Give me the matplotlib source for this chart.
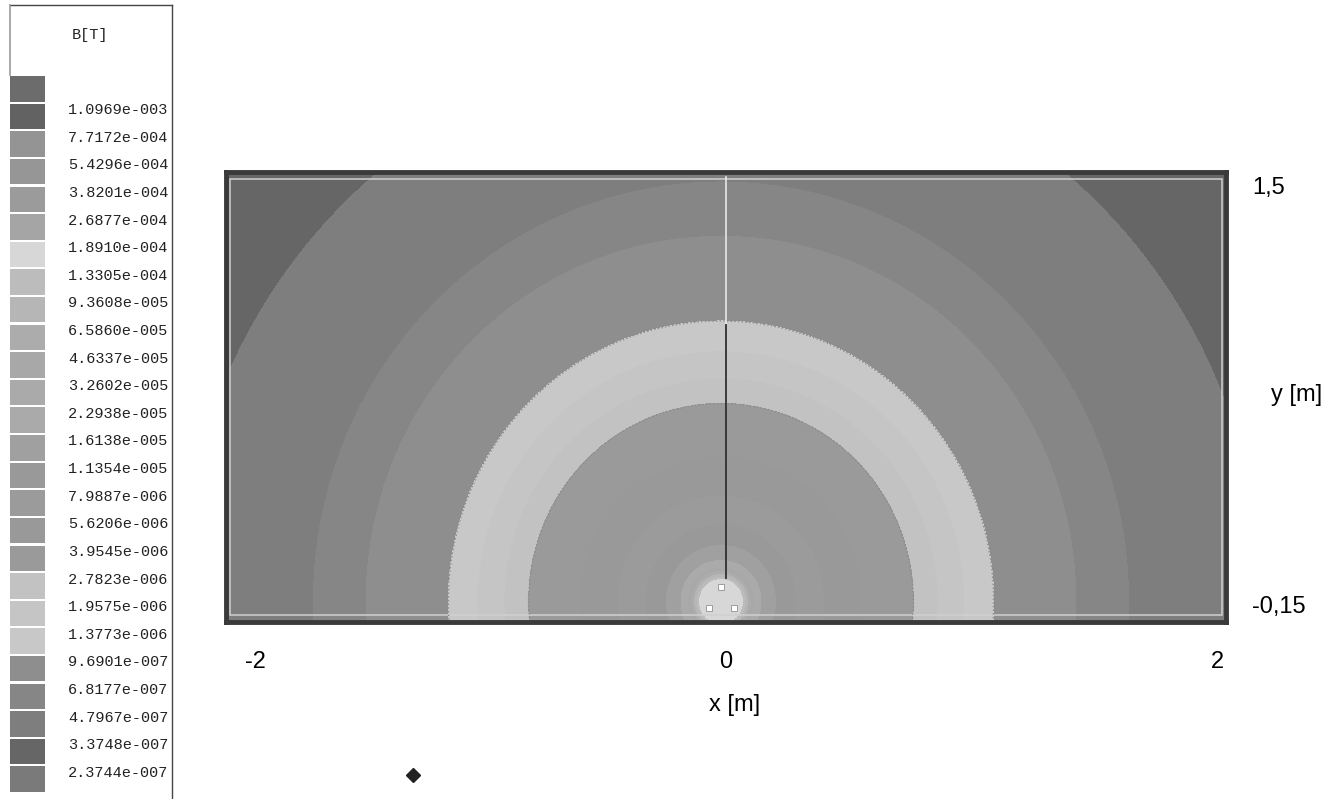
import numpy as np
import matplotlib
matplotlib.use("Agg")
import matplotlib.pyplot as plt
import matplotlib.transforms as mtransforms
from matplotlib.lines import Line2D
from matplotlib.patches import Rectangle

# legend levels B[T], top (highest) to bottom
level_labels = ["1.0969e-003", "7.7172e-004", "5.4296e-004", "3.8201e-004",
                "2.6877e-004", "1.8910e-004", "1.3305e-004", "9.3608e-005",
                "6.5860e-005", "4.6337e-005", "3.2602e-005", "2.2938e-005",
                "1.6138e-005", "1.1354e-005", "7.9887e-006", "5.6206e-006",
                "3.9545e-006", "2.7823e-006", "1.9575e-006", "1.3773e-006",
                "9.6901e-007", "6.8177e-007", "4.7967e-007", "3.3748e-007",
                "2.3744e-007"]
levels_desc = [float(s) for s in level_labels]

# grey of the 26 legend swatches (scan), top -> bottom
swatch_gray = [108, 98, 148, 150, 155, 165, 215, 188, 182, 172, 168, 170, 170,
               160, 153, 155, 153, 154, 194, 197, 200, 142, 134, 126, 102, 122]

# contour boundaries seen in the plot: radius from cable centre [m] and level on it
ring_r = [0.08, 0.16, 0.77, 1.09, 1.42, 1.63, 2.16, 2.90]
ring_b = [1.65e-4, 1.6e-5, 2.7823e-6, 9.6901e-7, 6.8177e-7, 4.7967e-7, 3.3748e-7, 2.6e-7]
cable_cx, cable_cy = -0.02, -0.075

# trefoil conductors
cond_x = [-0.02, -0.07, 0.03]
cond_y = [-0.02, -0.10, -0.10]

# evaluation path on x = 0
path_x = [0, 0, 0]
path_y = [1.48, 0.94, 0.01]

xtick_vals = [-2, 0, 2]
xtick_text = ["-2", "0", "2"]
ytick_vals = [1.5, -0.15]
ytick_text = ["1,5", "-0,15"]

W, H = 1337, 799


def px_box(x0, y0, w, h):
    return [x0 / W, 1 - (y0 + h) / H, w / W, h / H]


def grey(g):
    return (g / 255.0, g / 255.0, g / 255.0)


fig = plt.figure(figsize=(W / 100, H / 100), dpi=100, facecolor="white")

# ---- field plot
ax = fig.add_axes(px_box(226, 172, 1000, 450))
x = np.linspace(-2, 2, 900)
y = np.linspace(-0.15, 1.5, 420)
X, Y = np.meshgrid(x, y)
R = np.hypot(X - cable_cx, (Y - cable_cy) * 1.06)
R = np.clip(R, ring_r[0], None)
B = 10 ** np.interp(np.log10(R), np.log10(ring_r), np.log10(ring_b))

levels_asc = levels_desc[::-1]
colors_asc = [grey(g) for g in swatch_gray[::-1]]
ax.contourf(X, Y, B, levels=levels_asc, colors=colors_asc, extend="both")
# dotted edges of the two inner rings
ax.contour(X, Y, B, levels=[ring_b[3], ring_b[2]], colors="#8c8c8c",
           linewidths=1.0, linestyles=":")

ax.plot(path_x[:2], path_y[:2], color="#e8e8e8", lw=1.2)
ax.plot(path_x[1:], path_y[1:], color="#303030", lw=1.3)
ax.plot(cond_x, cond_y, "s", ms=4.5, mfc="white", mec="#909090", mew=0.6, ls="none")

ax.set_xlim(-2, 2)
ax.set_ylim(-0.15, 1.5)
ax.set_xticks([])
ax.set_yticks([])
for sp in ax.spines.values():
    sp.set_color("#3a3a3a")
    sp.set_linewidth(3.5)
ax.add_patch(Rectangle((0.004, 0.015), 0.992, 0.97, transform=ax.transAxes,
                       fill=False, ec="#d0d0d0", lw=1.1))

sans = ["Liberation Sans", "DejaVu Sans"]
for v, t, dx in zip(xtick_vals, xtick_text, [29, 0, -9]):
    ax.annotate(t, xy=(v, 0), xycoords=("data", "axes fraction"),
                xytext=(dx * 0.72, -40 * 0.72), textcoords="offset points",
                ha="center", va="center", fontsize=17, family=sans)
for v, t, dy in zip(ytick_vals, ytick_text, [-16, 15]):
    ax.annotate(t, xy=(1, v), xycoords=("axes fraction", "data"),
                xytext=(26 * 0.72, dy * 0.72), textcoords="offset points",
                ha="left", va="center", fontsize=17, family=sans)
fig.text(735 / W, 1 - 705 / H, "x [m]", ha="center", va="center", fontsize=17, family=sans)
fig.text(1297 / W, 1 - 395 / H, "y [m]", ha="center", va="center", fontsize=17, family=sans)

# ---- legend
mono = ["Liberation Mono", "DejaVu Sans Mono"]
ax_leg = fig.add_axes(px_box(10, 75, 35, 718))
n_sw = len(swatch_gray)
ax_leg.barh(np.arange(n_sw) + 0.5, 1, height=0.92, left=0,
            color=[grey(g) for g in swatch_gray])
ax_leg.set_ylim(n_sw, 0)
ax_leg.set_xlim(0, 1)
ax_leg.axis("off")
trans = mtransforms.blended_transform_factory(ax_leg.transAxes, ax_leg.transData)
for i, lab in enumerate(level_labels):
    ax_leg.text((68 - 10) / 35, i + 1 + 0.27, lab, transform=trans,
                ha="left", va="center", fontsize=11, family=mono, color="#222222")
fig.text(72 / W, 1 - 35 / H, "B[T]", ha="left", va="center", fontsize=11,
         family=mono, color="#222222")

fig.add_artist(Line2D([10 / W, 172 / W], [1 - 5 / H, 1 - 5 / H], color="#444444", lw=1))
fig.add_artist(Line2D([172 / W, 172 / W], [1 - 5 / H, 0], color="#444444", lw=1))
fig.add_artist(Line2D([10 / W, 10 / W], [1 - 5 / H, 1 - 75 / H], color="#999999", lw=1.2))
fig.add_artist(Line2D([413 / W], [1 - 775 / H], marker="D", ms=7, color="#222222", ls="none"))

fig.savefig("out.png", dpi=100, facecolor="white")
